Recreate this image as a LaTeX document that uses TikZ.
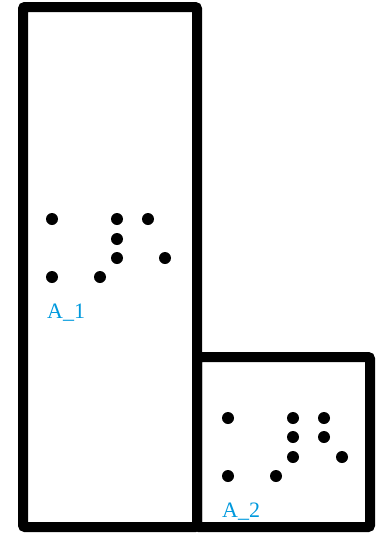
\documentclass[tikz,border=0pt]{standalone}
\usepackage{fontspec}
\setmainfont{Liberation Serif}
\definecolor{labelblue}{RGB}{0,153,221}

\begin{document}
\begin{tikzpicture}[x=1pt,y=-1pt,wall/.style={line width=10pt,rounded corners=2pt},pt/.style={fill=black},lbl/.style={text=labelblue,font=\fontsize{22}{24}\selectfont,inner sep=0pt,anchor=base west}]
\useasboundingbox (0,0) rectangle (377,536);
\draw[wall] (23,7) rectangle (197,527);\draw[wall] (197,357) rectangle (370,527);
\foreach \x/\y in {52/219,117/219,148/219,117/239,117/258,165/258,52/277,100/277} \fill[pt] (\x,\y) circle (6pt);
\foreach \x/\y in {228/418,293/418,324/418,293/437,324/437,293/457,342/457,228/476,276/476} \fill[pt] (\x,\y) circle (6pt);
\node[lbl] (A1) at (47,318) {A\_1};
\node[lbl] (A2) at (222,517) {A\_2};
\end{tikzpicture}
\end{document}
